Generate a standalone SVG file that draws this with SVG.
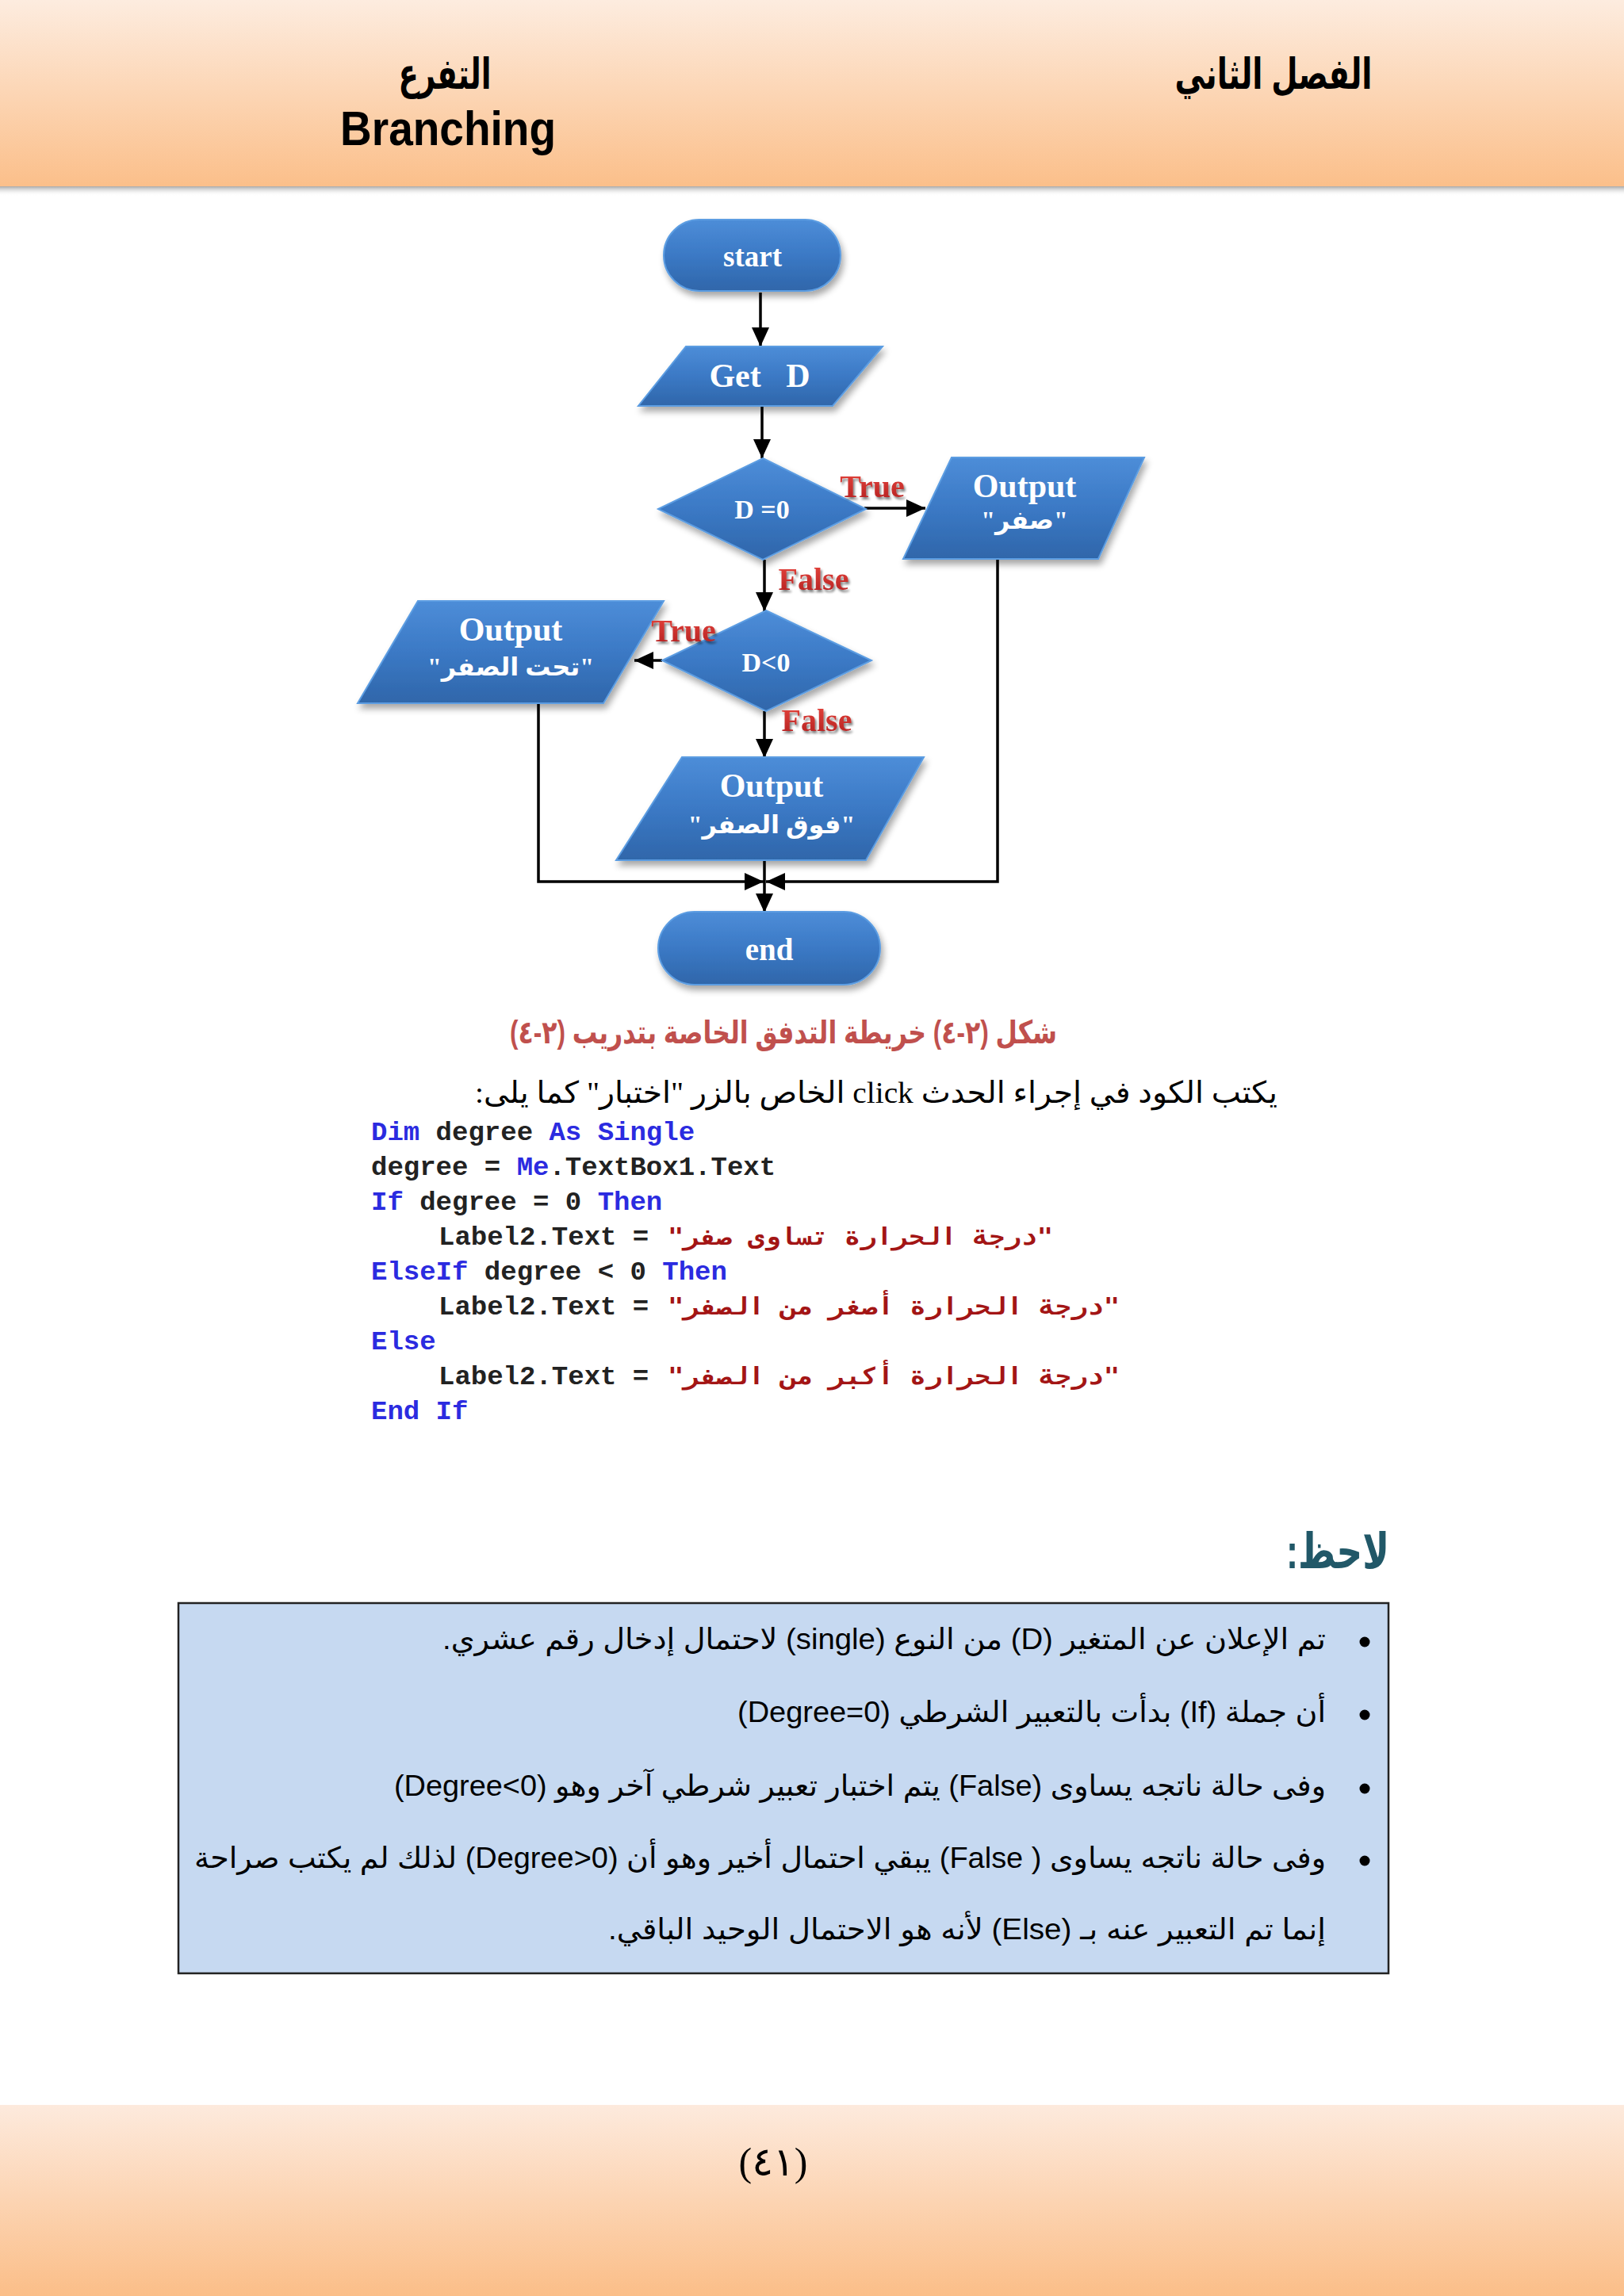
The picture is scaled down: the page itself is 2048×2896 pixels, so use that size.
<svg xmlns="http://www.w3.org/2000/svg" width="2048" height="2896" viewBox="0 0 2048 2896">
<defs>
  <linearGradient id="hdr" x1="0" y1="0" x2="0" y2="1">
    <stop offset="0" stop-color="#fdecdf"/>
    <stop offset="1" stop-color="#fbbf8a"/>
  </linearGradient>
  <linearGradient id="ftr" x1="0" y1="0" x2="0" y2="1">
    <stop offset="0" stop-color="#fdeadd"/>
    <stop offset="1" stop-color="#fbbe88"/>
  </linearGradient>
  <linearGradient id="blue" x1="0" y1="0" x2="0" y2="1">
    <stop offset="0" stop-color="#4d8dd8"/>
    <stop offset="0.5" stop-color="#3b79c5"/>
    <stop offset="1" stop-color="#2f66aa"/>
  </linearGradient>
  <linearGradient id="red" x1="0" y1="0" x2="0" y2="1">
    <stop offset="0" stop-color="#e9463e"/>
    <stop offset="1" stop-color="#b01f1f"/>
  </linearGradient>
  <linearGradient id="hshadow" x1="0" y1="0" x2="0" y2="1">
    <stop offset="0" stop-color="#8a8a8a"/>
    <stop offset="1" stop-color="#ffffff" stop-opacity="0"/>
  </linearGradient>
  <filter id="shadow" x="-20%" y="-20%" width="140%" height="150%">
    <feGaussianBlur in="SourceAlpha" stdDeviation="4"/>
    <feOffset dx="3" dy="6" result="o"/>
    <feComponentTransfer><feFuncA type="linear" slope="0.35"/></feComponentTransfer>
    <feMerge><feMergeNode/><feMergeNode in="SourceGraphic"/></feMerge>
  </filter>
  <filter id="tshadow" x="-20%" y="-30%" width="140%" height="170%">
    <feGaussianBlur in="SourceAlpha" stdDeviation="1.5"/>
    <feOffset dx="2" dy="3" result="o"/>
    <feComponentTransfer><feFuncA type="linear" slope="0.5"/></feComponentTransfer>
    <feMerge><feMergeNode/><feMergeNode in="SourceGraphic"/></feMerge>
  </filter>
  <marker id="arr" markerUnits="userSpaceOnUse" markerWidth="24" markerHeight="22" refX="24" refY="11" orient="auto">
    <path d="M0,0 L24,11 L0,22 z" fill="#000"/>
  </marker>
  <style>
    .node{fill:url(#blue);stroke:#5c9de2;stroke-width:2;filter:url(#shadow)}
    .nt{font-family:"Liberation Serif","DejaVu Sans",serif;font-weight:bold;fill:#fff;text-anchor:middle}
    .lbl{font-family:"Liberation Serif",serif;font-weight:bold;font-size:40px;fill:url(#red);text-anchor:middle;filter:url(#tshadow)}
    .conn{fill:none;stroke:#000;stroke-width:3.5}
    .code{font-family:"Liberation Mono","DejaVu Sans Mono",monospace;font-size:34px;font-weight:bold;fill:#222}
    .kw{fill:#2b2be0}
    .str{font-family:"DejaVu Sans Mono","Liberation Mono",monospace;font-size:30px;font-weight:bold;fill:#a31515}
    .body{font-family:"Liberation Sans","DejaVu Sans",sans-serif;font-size:37px;fill:#000}
  </style>
</defs>

<rect x="0" y="0" width="2048" height="2896" fill="#ffffff"/>

<!-- header -->
<g id="header">
  <rect x="0" y="233" width="2048" height="14" fill="url(#hshadow)"/>
  <rect x="0" y="0" width="2048" height="235" fill="url(#hdr)"/>
  <text x="561" y="112" font-family="Liberation Sans,DejaVu Sans,sans-serif" font-weight="bold" font-size="54" text-anchor="middle" direction="rtl" textLength="117" lengthAdjust="spacingAndGlyphs">التفرع</text>
  <text x="565" y="183" font-family="Liberation Sans,sans-serif" font-weight="bold" font-size="62" text-anchor="middle" textLength="272" lengthAdjust="spacingAndGlyphs">Branching</text>
  <text x="1606" y="112" font-family="Liberation Sans,DejaVu Sans,sans-serif" font-weight="bold" font-size="54" text-anchor="middle" direction="rtl" textLength="249" lengthAdjust="spacingAndGlyphs">الفصل الثاني</text>
</g>

<!-- footer -->
<g id="footer">
  <rect x="0" y="2655" width="2048" height="241" fill="url(#ftr)"/>
  <text x="975" y="2744" font-family="Liberation Serif,DejaVu Sans,serif" font-size="50" text-anchor="middle">(٤١)</text>
</g>

<!-- connectors -->
<g id="connectors">
  <line class="conn" x1="959" y1="369" x2="959" y2="437" marker-end="url(#arr)"/>
  <line class="conn" x1="961" y1="512" x2="961" y2="578" marker-end="url(#arr)"/>
  <line class="conn" x1="1090" y1="641" x2="1167" y2="641" marker-end="url(#arr)"/>
  <line class="conn" x1="964" y1="706" x2="964" y2="771" marker-end="url(#arr)"/>
  <line class="conn" x1="835" y1="833" x2="800" y2="833" marker-end="url(#arr)"/>
  <line class="conn" x1="964" y1="897" x2="964" y2="956" marker-end="url(#arr)"/>
  <line class="conn" x1="964" y1="1085" x2="964" y2="1151" marker-end="url(#arr)"/>
  <polyline class="conn" points="679,887 679,1112 963,1112" marker-end="url(#arr)"/>
  <polyline class="conn" points="1258,705 1258,1112 966,1112" marker-end="url(#arr)"/>
</g>

<!-- nodes -->
<g id="node-start">
  <rect class="node" x="837" y="277" width="223" height="90" rx="45"/>
  <text class="nt" x="949" y="336" font-size="37">start</text>
</g>
<g id="node-getd">
  <polygon class="node" points="865,437 1113,437 1050,512 805,512"/>
  <text class="nt" x="958" y="488" font-size="42" xml:space="preserve">Get   D</text>
</g>
<g id="node-d0">
  <polygon class="node" points="962,578 1092,642 962,706 830,642"/>
  <text class="nt" x="961" y="654" font-size="34">D =0</text>
</g>
<g id="node-out1">
  <polygon class="node" points="1200,577 1443,577 1385,705 1139,705"/>
  <text class="nt" x="1292" y="627" font-size="42">Output</text>
  <text class="nt" x="1292" y="667" font-size="32" direction="rtl">"صفر"</text>
</g>
<g id="node-dlt0">
  <polygon class="node" points="966,770 1099,833 966,897 835,833"/>
  <text class="nt" x="966" y="847" font-size="34">D&lt;0</text>
</g>
<g id="node-out2">
  <polygon class="node" points="527,758 837,758 761,887 451,887"/>
  <text class="nt" x="644" y="808" font-size="42">Output</text>
  <text class="nt" x="644" y="852" font-size="32" direction="rtl">"تحت الصفر"</text>
</g>
<g id="node-out3">
  <polygon class="node" points="860,955 1165,955 1092,1085 777,1085"/>
  <text class="nt" x="973" y="1005" font-size="42">Output</text>
  <text class="nt" x="973" y="1051" font-size="32" direction="rtl">"فوق الصفر"</text>
</g>
<g id="node-end">
  <rect class="node" x="830" y="1150" width="280" height="92" rx="46"/>
  <text class="nt" x="970" y="1211" font-size="39">end</text>
</g>

<!-- branch labels -->
<g id="labels">
  <text class="lbl" x="1100" y="627">True</text>
  <text class="lbl" x="1026" y="744">False</text>
  <text class="lbl" x="862" y="809">True</text>
  <text class="lbl" x="1030" y="922">False</text>
</g>

<!-- caption -->
<text x="988" y="1316" font-family="Liberation Sans,DejaVu Sans,sans-serif" font-weight="bold" font-size="40" fill="#c0504d" text-anchor="middle" direction="rtl" textLength="690" lengthAdjust="spacingAndGlyphs">شكل (٢-٤) خريطة التدفق الخاصة بتدريب (٢-٤)</text>

<!-- intro line -->
<text x="1105" y="1391" font-family="Liberation Serif,DejaVu Sans,serif" font-size="38" fill="#000" text-anchor="middle" direction="rtl" textLength="1012" lengthAdjust="spacingAndGlyphs">يكتب الكود في إجراء الحدث click الخاص بالزر "اختبار" كما يلى:</text>

<!-- code -->
<g id="code">
  <text class="code" x="468" y="1438" xml:space="preserve"><tspan class="kw">Dim</tspan> degree <tspan class="kw">As Single</tspan></text>
  <text class="code" x="468" y="1482" xml:space="preserve">degree = <tspan class="kw">Me</tspan>.TextBox1.Text</text>
  <text class="code" x="468" y="1526" xml:space="preserve"><tspan class="kw">If</tspan> degree = 0 <tspan class="kw">Then</tspan></text>
  <text class="code" x="553" y="1570" xml:space="preserve">Label2.Text =</text>
  <text class="str" x="1085" y="1570" text-anchor="middle" direction="rtl" textLength="486" lengthAdjust="spacingAndGlyphs">"درجة الحرارة تساوى صفر"</text>
  <text class="code" x="468" y="1614" xml:space="preserve"><tspan class="kw">ElseIf</tspan> degree &lt; 0 <tspan class="kw">Then</tspan></text>
  <text class="code" x="553" y="1658" xml:space="preserve">Label2.Text =</text>
  <text class="str" x="1127" y="1658" text-anchor="middle" direction="rtl" textLength="570" lengthAdjust="spacingAndGlyphs">"درجة الحرارة أصغر من الصفر"</text>
  <text class="code kw" x="468" y="1702">Else</text>
  <text class="code" x="553" y="1746" xml:space="preserve">Label2.Text =</text>
  <text class="str" x="1127" y="1746" text-anchor="middle" direction="rtl" textLength="570" lengthAdjust="spacingAndGlyphs">"درجة الحرارة أكبر من الصفر"</text>
  <text class="code kw" x="468" y="1790">End If</text>
</g>

<!-- note -->
<g id="note">
  <text x="1752" y="1978" font-family="Liberation Sans,DejaVu Sans,sans-serif" font-weight="bold" font-size="62" fill="#215868" text-anchor="start" direction="rtl" textLength="130" lengthAdjust="spacingAndGlyphs">لاحظ:</text>
  <rect x="225" y="2022" width="1526" height="467" fill="#c6d9f1" stroke="#222" stroke-width="2.5"/>
  <circle cx="1721" cy="2071" r="6.5" fill="#000"/>
  <circle cx="1721" cy="2163" r="6.5" fill="#000"/>
  <circle cx="1721" cy="2256" r="6.5" fill="#000"/>
  <circle cx="1721" cy="2347" r="6.5" fill="#000"/>
  <text class="body" x="1672" y="2080" direction="rtl" textLength="1114" lengthAdjust="spacingAndGlyphs">تم الإعلان عن المتغير (D) من النوع (single) لاحتمال إدخال رقم عشري.</text>
  <text class="body" x="1672" y="2172" direction="rtl" textLength="742" lengthAdjust="spacingAndGlyphs">أن جملة (If) بدأت بالتعبير الشرطي (Degree=0)</text>
  <text class="body" x="1672" y="2265" direction="rtl" textLength="1175" lengthAdjust="spacingAndGlyphs">وفى حالة ناتجه يساوى (False) يتم اختبار تعبير شرطي آخر وهو (Degree&lt;0)</text>
  <text class="body" x="1672" y="2356" direction="rtl" textLength="1427" lengthAdjust="spacingAndGlyphs">وفى حالة ناتجه يساوى ( False) يبقي احتمال أخير وهو أن (Degree&gt;0) لذلك لم يكتب صراحة</text>
  <text class="body" x="1672" y="2446" direction="rtl" textLength="905" lengthAdjust="spacingAndGlyphs">إنما تم التعبير عنه بـ (Else) لأنه هو الاحتمال الوحيد الباقي.</text>
</g>
</svg>
